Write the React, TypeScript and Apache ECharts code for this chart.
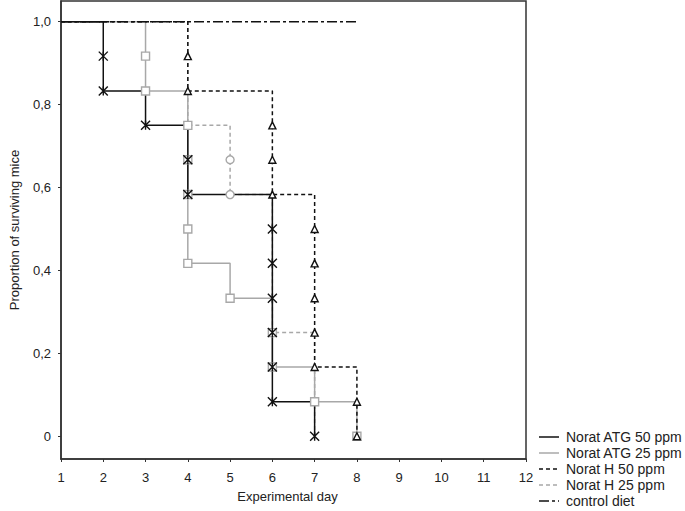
import React, { useEffect, useRef } from "react";
import * as echarts from "echarts";

// Step curves: [day, proportion surviving]
const atg50Line: [number, number][] = [[1, 1], [2, 0.833], [3, 0.75], [4, 0.583], [6, 0.083], [7, 0]];
const atg25Line: [number, number][] = [[1, 1], [3, 0.833], [4, 0.417], [5, 0.333], [6, 0.167], [7, 0.083], [8, 0]];
const h50Line: [number, number][] = [[1, 1], [4, 0.833], [6, 0.583], [7, 0.167], [8, 0]];
const h25Line: [number, number][] = [[1, 1], [4, 0.75], [5, 0.583], [6, 0.25], [7, 0]];
const controlLine: [number, number][] = [[1, 1], [8, 1]];

// Event markers
const atg50Marks: [number, number][] = [[2, 0.917], [2, 0.833], [3, 0.75], [4, 0.667], [4, 0.583], [6, 0.5], [6, 0.417], [6, 0.333], [6, 0.25], [6, 0.167], [6, 0.083], [7, 0]];
const atg25Marks: [number, number][] = [[3, 0.917], [3, 0.833], [4, 0.75], [4, 0.667], [4, 0.583], [4, 0.5], [4, 0.417], [5, 0.333], [6, 0.25], [6, 0.167], [7, 0.083], [8, 0]];
const h50Marks: [number, number][] = [[4, 0.917], [4, 0.833], [6, 0.75], [6, 0.667], [6, 0.583], [7, 0.5], [7, 0.417], [7, 0.333], [7, 0.25], [7, 0.167], [8, 0.083], [8, 0]];
const h25Marks: [number, number][] = [[5, 0.667], [5, 0.583]];

const yTicks = [0, 0.2, 0.4, 0.6, 0.8, 1.0];
const seriesNames = ["Norat ATG 50 ppm", "Norat ATG 25 ppm", "Norat H 50 ppm", "Norat H 25 ppm", "control diet"];

const FONT = 'Arial, "Liberation Sans", sans-serif';
const TXT = "#222";
const GRAY = "#a8a8a8";
const BLACK = "#111";

const legendColors = [BLACK, GRAY, BLACK, GRAY, BLACK];
const legendDash: any[] = [null, null, [4, 3], [4, 3], [10, 3, 3, 3]];

export default function App() {
  const ref = useRef<HTMLDivElement>(null);
  useEffect(() => {
    if (!ref.current) return;
    const chart = echarts.init(ref.current, null, { renderer: "svg" });
    const star = "path://M0,-4L0,4M-4,-4L4,4M-4,4L4,-4";
    const lineSeries = (name: string, data: [number, number][], color: string, type: any, z: number) => ({
      name,
      type: "line",
      step: "end",
      data,
      symbol: "none",
      z,
      lineStyle: { color, width: 1.5, type },
      itemStyle: { color },
    });
    const markSeries = (data: [number, number][], symbol: string, size: number, color: string, z: number, fill: string) => ({
      type: "scatter",
      data,
      symbol,
      symbolSize: size,
      z,
      itemStyle: { color: fill, borderColor: color, borderWidth: 1.4, opacity: 1 },
    });

    const legendGraphics: any[] = [];
    seriesNames.forEach((name, i) => {
      const y = 437 + i * 16;
      legendGraphics.push({
        type: "line",
        shape: { x1: 539, y1: y, x2: 559, y2: y },
        style: { stroke: legendColors[i], lineWidth: 1.5, lineDash: legendDash[i] || undefined },
      });
      legendGraphics.push({
        type: "text",
        x: 566,
        y,
        style: { text: name, fill: TXT, fontSize: 14, fontFamily: FONT, verticalAlign: "middle", align: "left" },
      });
    });

    chart.setOption({
      animation: false,
      backgroundColor: "#fff",
      grid: { left: 53, right: 159, top: 1, bottom: 52, show: true, borderColor: "#333", borderWidth: 1.5 },
      xAxis: {
        type: "value",
        min: 1,
        max: 12,
        interval: 1,
        name: "Experimental day",
        nameLocation: "middle",
        nameGap: 31,
        nameTextStyle: { fontFamily: FONT, fontSize: 13, color: TXT, padding: [0, 12, 0, 0] },
        axisLine: { show: true, onZero: false, lineStyle: { color: "#333", width: 1.5 } },
        axisTick: { show: true, inside: false, length: 3, lineStyle: { color: "#333" } },
        axisLabel: { margin: 12, fontFamily: FONT, fontSize: 13, color: TXT },
        splitLine: { show: false },
      },
      yAxis: {
        type: "value",
        min: -0.055,
        max: 1.05,
        name: "Proportion of surviving mice",
        nameLocation: "middle",
        nameGap: 40,
        nameTextStyle: { fontFamily: FONT, fontSize: 13, color: TXT },
        axisLine: { show: true, onZero: false, lineStyle: { color: "#333", width: 1.5 } },
        axisTick: { show: true, inside: false, length: 3, customValues: yTicks, lineStyle: { color: "#333" } },
        axisLabel: {
          margin: 10,
          fontFamily: FONT,
          fontSize: 13,
          color: TXT,
          customValues: yTicks,
          formatter: (v: number) => (Math.abs(v) < 1e-9 ? "0" : v.toFixed(1).replace(".", ",")),
        },
        splitLine: { show: false },
      },
      graphic: legendGraphics,
      series: [
        lineSeries(seriesNames[3], h25Line, GRAY, [4, 3], 2),
        lineSeries(seriesNames[1], atg25Line, GRAY, "solid", 3),
        lineSeries(seriesNames[2], h50Line, BLACK, [4, 3], 4),
        lineSeries(seriesNames[0], atg50Line, BLACK, "solid", 5),
        lineSeries(seriesNames[4], controlLine, BLACK, [10, 3, 3, 3], 6),
        markSeries(h25Marks, "circle", 8, GRAY, 7, "#fff"),
        markSeries(atg25Marks, "rect", 8, GRAY, 8, "#fff"),
        markSeries(h50Marks, "triangle", 7, BLACK, 9, "#fff"),
        markSeries(atg50Marks, star, 9, BLACK, 10, "none"),
      ],
    });
    return () => chart.dispose();
  }, []);
  return <div ref={ref} style={{ width: 685, height: 511, position: "absolute", left: 0, top: 0 }} />;
}
